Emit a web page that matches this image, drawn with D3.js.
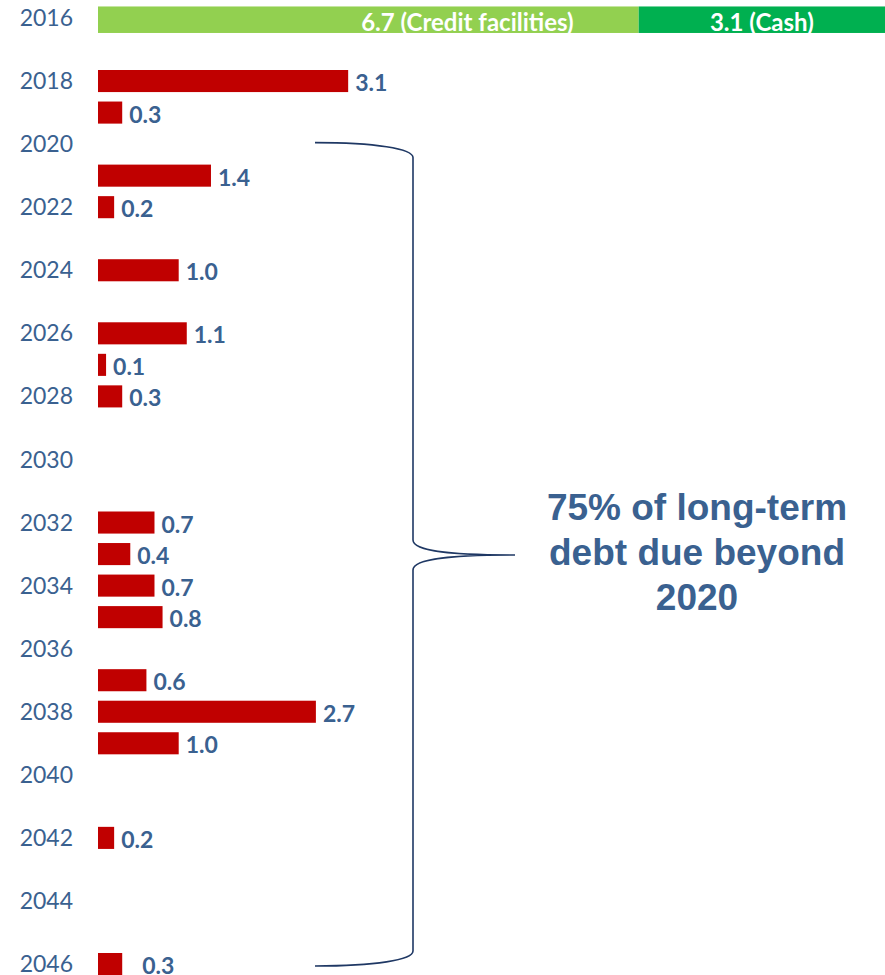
<!DOCTYPE html>
<head>
<style>
  body { margin: 0; background: #fff; }
  svg text { font-family: Lato, "Open Sans", sans-serif; }
</style>
</head>
<body>
<div id="chart_container"></div>
<script src="https://cdn.jsdelivr.net/npm/d3@7"></script>
<script>
const width = 885
const height = 975

// years on the axis (every year gets a row, only even ones are labelled)
const years = d3.range(2016, 2047)
const tickYears = d3.range(2016, 2047, 2)

// 2016 liquidity bar
const liquidityParts = ['Credit facilities', 'Cash']
const liquidityValues = [6.7, 3.1]
const liquidityColors = ['#92D050', '#00B050']

// debt maturities
const debtYears = [2018, 2019, 2021, 2022, 2024, 2026, 2027, 2028, 2032, 2033, 2034, 2035, 2037, 2038, 2039, 2042, 2046]
const debtValues = [3.1, 0.3, 1.4, 0.2, 1.0, 1.1, 0.1, 0.3, 0.7, 0.4, 0.7, 0.8, 0.6, 2.7, 1.0, 0.2, 0.3]

const noteLines = ['75% of long-term', 'debt due beyond', '2020']

const blue = '#3A6190'

const svg = d3.select('#chart_container')
  .append('svg')
  .attr('width', width)
  .attr('height', height)

const y = d3.scaleBand()
  .domain(years)
  .range([2.2, 979.8])
  .paddingInner(0.3)
  .paddingOuter(0.15)

const x = d3.scaleLinear()
  .domain([0, 10])
  .range([98, 905])

// y axis: just labels
const yAxis = d3.axisLeft(y)
  .tickValues(tickYears)
  .tickSize(0)
  .tickPadding(0)

svg.append('g')
  .attr('transform', 'translate(73,0)')
  .call(yAxis)
  .call(g => g.select('.domain').remove())
  .call(g => g.selectAll('text')
    .attr('fill', blue)
    .style('font-size', '23px')
    .style('font-family', 'Lato, sans-serif')
    .attr('dy', '0.35em'))

// stacked 2016 bar
let acc = 0
const stacked = liquidityValues.map((v, i) => {
  const d = { name: liquidityParts[i], value: v, x0: acc, x1: acc + v, color: liquidityColors[i] }
  acc += v
  return d
})

const bandMid = yr => y(yr) + y.bandwidth() / 2

svg.selectAll('rect.liq')
  .data(stacked)
  .enter()
  .append('rect')
  .attr('class', 'liq')
  .attr('x', d => x(d.x0))
  .attr('width', d => x(d.x1) - x(d.x0))
  .attr('y', bandMid(2016) - 11.5)
  .attr('height', 26.5)
  .attr('fill', d => d.color)

svg.selectAll('text.liq')
  .data(stacked)
  .enter()
  .append('text')
  .attr('class', 'liq')
  .attr('x', (d, i) => i === 0 ? x(d.x1) - 65 : (x(d.x0) + Math.min(x(d.x1), width)) / 2)
  .attr('text-anchor', (d, i) => i === 0 ? 'end' : 'middle')
  .attr('y', bandMid(2016) + 5)
  .attr('dy', '0.35em')
  .attr('fill', '#fff')
  .style('font-weight', 'bold')
  .style('font-size', '24px')
  .text(d => d.value.toFixed(1) + ' (' + d.name + ')')

// debt bars
const debt = debtYears.map((yr, i) => ({ year: yr, value: debtValues[i] }))

svg.selectAll('rect.debt')
  .data(debt)
  .enter()
  .append('rect')
  .attr('class', 'debt')
  .attr('x', x(0))
  .attr('y', d => y(d.year))
  .attr('width', d => x(d.value) - x(0))
  .attr('height', y.bandwidth())
  .attr('fill', '#C00000')

svg.selectAll('text.debt')
  .data(debt)
  .enter()
  .append('text')
  .attr('class', 'debt')
  .attr('x', d => x(d.value) + (d.year === 2046 ? 20 : 7))
  .attr('y', d => bandMid(d.year) + 2)
  .attr('dy', '0.35em')
  .attr('fill', blue)
  .style('font-weight', 'bold')
  .style('font-size', '23px')
  .text(d => d.value.toFixed(1))

// curly brace from 2020 to 2046
const bx0 = 315, bx1 = 413, tip = 515
const yTop = bandMid(2020) - 1.5
const yBot = bandMid(2046) + 2
const yMid = 555
const brace = d3.path()
brace.moveTo(bx0, yTop)
brace.bezierCurveTo(bx0 + 60, yTop, bx1, yTop + 6, bx1, yTop + 15)
brace.lineTo(bx1, yMid - 15)
brace.bezierCurveTo(bx1, yMid - 3, tip - 60, yMid, tip, yMid)
brace.bezierCurveTo(tip - 60, yMid, bx1, yMid + 3, bx1, yMid + 15)
brace.lineTo(bx1, yBot - 15)
brace.bezierCurveTo(bx1, yBot - 6, bx0 + 60, yBot, bx0, yBot)

svg.append('path')
  .attr('d', brace.toString())
  .attr('fill', 'none')
  .attr('stroke', '#1F3864')
  .attr('stroke-width', 1.6)

svg.append('g')
  .selectAll('text')
  .data(noteLines)
  .enter()
  .append('text')
  .attr('x', 697)
  .attr('y', (d, i) => 520 + i * 45)
  .attr('text-anchor', 'middle')
  .attr('fill', blue)
  .style('font-family', '"Liberation Sans", Arial, sans-serif')
  .style('font-weight', 'bold')
  .style('font-size', '37px')
  .text(d => d)
</script>
</body>
